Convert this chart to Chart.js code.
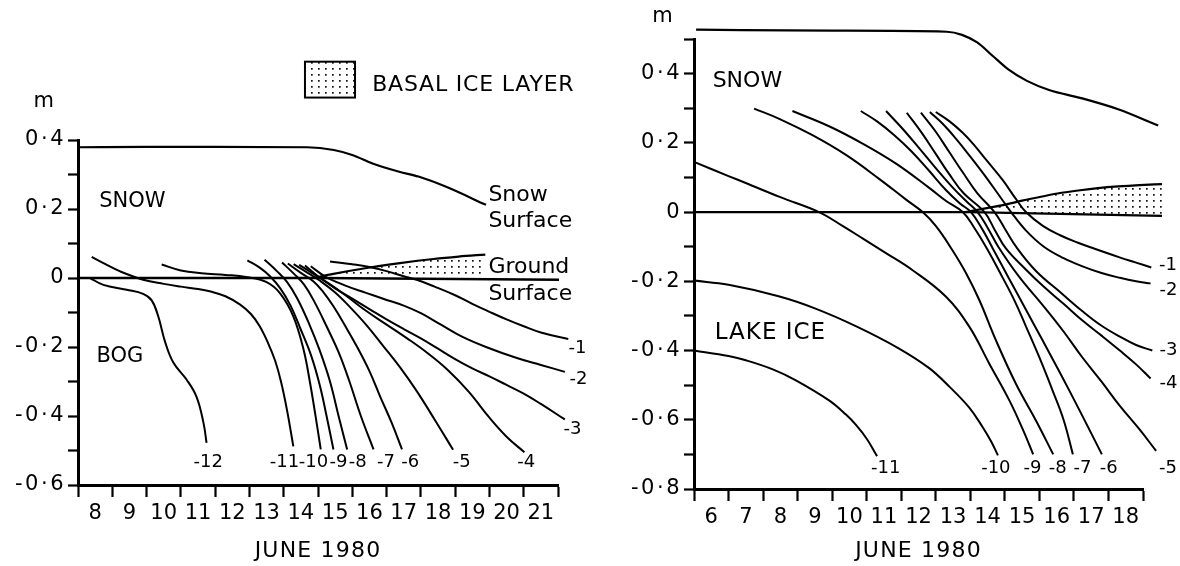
<!DOCTYPE html>
<html><head><meta charset="utf-8">
<script src="https://cdn.jsdelivr.net/npm/chart.js@4.4.1/dist/chart.umd.min.js"></script>
<style>
html,body{margin:0;padding:0;background:#fff;}
#wrap{position:relative;width:1180px;height:566px;overflow:hidden;background:#fff;}
#c1{position:absolute;left:0;top:0;}
#c2{position:absolute;left:590px;top:0;}
</style></head><body>
<div id="wrap"><canvas id="c1" width="590" height="566"></canvas><canvas id="c2" width="590" height="566"></canvas></div>
<script>
// ---------------- DATA (day of June 1980, metres) ----------------
// LEFT PANEL (bog site)
const leftSnow = [[8.05,0.379],[10.0,0.38],[12.0,0.38],[14.68,0.379],[15.46,0.371],[16.02,0.356],[16.59,0.332],[17.37,0.308],[17.93,0.294],[18.72,0.265],[19.9,0.212]];
const leftGround = [[8.0,0.0],[15.0,0.0],[22.03,-0.005]];
const leftBasalTop = [[14.87,0.0],[15.45,0.012],[16.42,0.029],[17.39,0.043],[18.37,0.055],[19.1,0.062],[19.88,0.068]];
const leftBasalBottom = [[14.87,0.0],[15.45,0.0],[16.42,-0.001],[17.39,-0.002],[18.37,-0.002],[19.1,-0.003],[19.88,-0.003]];
const lIso1 = [[15.35,0.048],[16.0,0.04],[16.5,0.032],[17.0,0.02],[17.5,0.005],[17.9,-0.006],[18.4,-0.025],[19.0,-0.05],[19.5,-0.075],[20.0,-0.098],[20.5,-0.12],[21.0,-0.14],[21.5,-0.158],[22.3,-0.177]];
const lIso2 = [[14.79,0.034],[15.2,0.005],[15.8,-0.022],[16.4,-0.043],[16.9,-0.06],[17.5,-0.08],[18.0,-0.102],[18.6,-0.136],[19.2,-0.17],[19.9,-0.2],[20.8,-0.232],[21.5,-0.252],[22.2,-0.272]];
const lIso3 = [[14.62,0.036],[15.0,0.005],[15.5,-0.03],[16.0,-0.06],[16.5,-0.09],[17.0,-0.12],[17.5,-0.148],[18.0,-0.175],[18.5,-0.205],[19.0,-0.235],[19.5,-0.262],[20.0,-0.285],[20.5,-0.31],[21.0,-0.335],[21.5,-0.365],[22.2,-0.41]];
const lIso4 = [[14.45,0.038],[14.9,0.01],[15.3,-0.015],[15.8,-0.05],[16.4,-0.095],[17.0,-0.135],[17.6,-0.175],[18.2,-0.218],[18.8,-0.268],[19.4,-0.33],[20.0,-0.405],[20.5,-0.46],[21.02,-0.505]];
const lIso5 = [[14.29,0.04],[14.7,0.015],[15.06,-0.008],[15.5,-0.042],[15.94,-0.085],[16.4,-0.135],[16.91,-0.198],[17.4,-0.26],[17.88,-0.328],[18.4,-0.41],[18.94,-0.498]];
const lIso6 = [[14.12,0.042],[14.5,0.015],[14.87,-0.01],[15.15,-0.04],[15.45,-0.082],[15.8,-0.14],[16.13,-0.198],[16.5,-0.27],[16.81,-0.343],[17.15,-0.42],[17.45,-0.497]];
const lIso7 = [[13.95,0.045],[14.3,0.012],[14.6,-0.02],[14.9,-0.07],[15.25,-0.14],[15.6,-0.215],[15.9,-0.295],[16.25,-0.4],[16.62,-0.497]];
const lIso8 = [[13.44,0.053],[13.8,0.02],[14.1,-0.012],[14.4,-0.06],[14.75,-0.135],[15.05,-0.21],[15.35,-0.3],[15.6,-0.4],[15.85,-0.497]];
const lIso9 = [[12.94,0.051],[13.3,0.03],[13.6,0.005],[13.9,-0.03],[14.2,-0.08],[14.5,-0.15],[14.8,-0.225],[15.05,-0.31],[15.25,-0.4],[15.45,-0.497]];
const lIso10 = [[10.44,0.039],[11.0,0.022],[11.6,0.014],[12.3,0.009],[12.9,0.003],[13.5,-0.012],[13.9,-0.045],[14.28,-0.111],[14.58,-0.208],[14.77,-0.305],[14.93,-0.401],[15.08,-0.497]];
const lIso11 = [[8.4,0.061],[8.8,0.04],[9.23,0.019],[9.9,-0.005],[10.5,-0.017],[11.0,-0.025],[11.5,-0.032],[11.9,-0.04],[12.3,-0.053],[12.73,-0.077],[13.05,-0.105],[13.3,-0.14],[13.55,-0.19],[13.75,-0.24],[13.92,-0.3],[14.1,-0.385],[14.28,-0.488]];
const lIso12 = [[8.35,0.0],[8.74,-0.02],[9.42,-0.034],[9.9,-0.046],[10.15,-0.065],[10.34,-0.111],[10.54,-0.185],[10.78,-0.245],[11.17,-0.295],[11.46,-0.345],[11.66,-0.42],[11.75,-0.478]];

// RIGHT PANEL (lake site)
const rightSnow = [[6.06,0.527],[10.0,0.524],[13.32,0.521],[13.76,0.512],[14.2,0.49],[14.65,0.451],[15.09,0.413],[15.64,0.379],[16.3,0.352],[17.18,0.33],[18.28,0.297],[19.44,0.25]];
const rightGround = [[6.0,0.0],[14.0,0.0],[19.55,-0.011]];
const rightBasalTop = [[13.87,0.0],[14.4,0.01],[14.98,0.021],[15.5,0.033],[16.08,0.045],[16.6,0.055],[17.18,0.063],[17.7,0.069],[18.28,0.074],[18.9,0.078],[19.55,0.081]];
const rightBasalBottom = [[13.87,0.0],[14.4,0.0],[14.98,-0.002],[15.5,-0.003],[16.08,-0.004],[16.6,-0.005],[17.18,-0.006],[17.7,-0.007],[18.28,-0.008],[18.9,-0.01],[19.55,-0.011]];
const rIso1 = [[13.0,0.289],[13.4,0.262],[13.78,0.229],[14.1,0.195],[14.45,0.152],[14.94,0.092],[15.32,0.038],[15.61,0.0],[16.1,-0.04],[16.6,-0.067],[17.1,-0.088],[17.6,-0.106],[18.3,-0.13],[18.8,-0.146],[19.24,-0.16]];
const rIso2 = [[12.83,0.289],[13.2,0.255],[13.6,0.21],[14.0,0.16],[14.4,0.108],[14.8,0.053],[15.18,0.0],[15.6,-0.052],[16.13,-0.1],[16.7,-0.133],[17.23,-0.156],[17.8,-0.176],[18.33,-0.19],[18.8,-0.2],[19.22,-0.206]];
const rIso3 = [[12.57,0.287],[13.0,0.232],[13.4,0.172],[13.8,0.112],[14.2,0.055],[14.7,0.0],[15.0,-0.048],[15.36,-0.105],[15.9,-0.17],[16.68,-0.238],[17.23,-0.285],[17.78,-0.327],[18.33,-0.36],[18.8,-0.384],[19.27,-0.4]];
const rIso4 = [[12.16,0.287],[12.6,0.228],[13.0,0.168],[13.4,0.108],[13.8,0.055],[14.41,0.0],[14.7,-0.05],[15.03,-0.105],[15.6,-0.165],[16.13,-0.216],[16.7,-0.265],[17.23,-0.312],[17.8,-0.357],[18.33,-0.4],[18.8,-0.44],[19.22,-0.481]];
const rIso5 = [[11.56,0.292],[12.0,0.245],[12.5,0.187],[13.0,0.127],[13.5,0.07],[13.9,0.03],[14.21,0.0],[14.5,-0.045],[14.81,-0.1],[15.4,-0.185],[16.13,-0.273],[16.7,-0.345],[17.23,-0.418],[17.8,-0.49],[18.33,-0.56],[18.9,-0.628],[19.38,-0.69]];
const rIso6 = [[10.83,0.292],[11.3,0.262],[11.8,0.222],[12.3,0.175],[12.8,0.12],[13.3,0.063],[13.7,0.025],[14.02,0.0],[14.35,-0.05],[14.65,-0.105],[15.1,-0.188],[15.6,-0.28],[16.1,-0.372],[16.6,-0.465],[17.2,-0.58],[17.81,-0.7]];
const rIso7 = [[8.85,0.292],[9.91,0.248],[10.88,0.198],[11.85,0.14],[12.81,0.07],[13.3,0.032],[13.78,0.0],[14.1,-0.043],[14.48,-0.105],[14.94,-0.19],[15.3,-0.26],[15.61,-0.33],[16.0,-0.42],[16.4,-0.52],[16.7,-0.6],[16.97,-0.7]];
const rIso8 = [[7.74,0.299],[8.5,0.268],[9.43,0.222],[10.4,0.165],[11.36,0.096],[12.14,0.036],[12.62,0.0],[13.0,-0.04],[13.45,-0.105],[13.87,-0.175],[14.26,-0.254],[14.74,-0.37],[15.32,-0.496],[15.9,-0.602],[16.4,-0.7]];
const rIso9 = [[6.0,0.145],[7.0,0.104],[7.5,0.084],[8.5,0.043],[9.62,0.0],[10.3,-0.04],[10.88,-0.076],[11.5,-0.115],[12.33,-0.168],[13.29,-0.244],[13.97,-0.331],[14.55,-0.438],[15.13,-0.544],[15.52,-0.628],[15.82,-0.7]];
const rIso10 = [[6.0,-0.198],[7.0,-0.21],[8.45,-0.243],[9.5,-0.278],[10.7,-0.33],[11.9,-0.392],[12.8,-0.45],[13.4,-0.505],[13.97,-0.565],[14.35,-0.62],[14.6,-0.662],[14.8,-0.703]];
const rIso11 = [[6.0,-0.4],[7.0,-0.416],[7.5,-0.428],[8.3,-0.455],[8.95,-0.486],[9.91,-0.544],[10.4,-0.585],[10.69,-0.615],[11.0,-0.655],[11.3,-0.705]];

// isotherm names (°C)
const leftIsoNames = ['-1','-2','-3','-4','-5','-6','-7','-8','-9','-10','-11','-12'];
const rightIsoNames = ['-1','-2','-3','-4','-5','-6','-7','-8','-9','-10','-11'];
// axis day ranges and value ranges
const leftDays = [8, 22];
const rightDays = [6, 19];
const leftRange = [-0.6, 0.4];
const rightRange = [-0.8, 0.5];

// ---------------- annotations (data units) ----------------
const leftIsoLabelAt = [[22.57,-0.203],[22.6,-0.295],[22.42,-0.439],[21.07,-0.534],[19.19,-0.534],[17.69,-0.534],[16.98,-0.534],[16.16,-0.534],[15.6,-0.534],[14.87,-0.534],[14.02,-0.534],[11.8,-0.534]];
const rightIsoLabelAt = [[19.72,-0.153],[19.74,-0.225],[19.74,-0.399],[19.74,-0.494],[19.72,-0.74],[18.01,-0.74],[17.25,-0.74],[16.53,-0.74],[15.8,-0.74],[14.74,-0.74],[11.55,-0.74]];

const FONT = "'DejaVu Sans', 'Liberation Sans', sans-serif";

function pts(a){ return a.map(p => ({x:p[0], y:p[1]})); }

function makePattern(){
  const p = document.createElement('canvas'); p.width = 7; p.height = 6;
  const g = p.getContext('2d'); g.fillStyle = '#111'; g.fillRect(3,2,1.7,1.7);
  return document.createElement('canvas').getContext('2d').createPattern(p, 'repeat');
}
const PATTERN = makePattern();

function yLabel(v){
  const k = Math.round(v*10);
  if (k % 2 !== 0) return '';
  if (k === 0) return '0';
  return (k < 0 ? '-' : '') + (Math.abs(k)/10).toFixed(1).replace('.', '\u00B7');
}

function spaced(fn, ctx, px){
  return function(){
    ctx.save();
    try { ctx.letterSpacing = px; } catch(e) {}
    const r = fn.apply(this, arguments);
    ctx.restore();
    return r;
  };
}

const textPlugin = {
  id: 'texts',
  afterInit(chart){
    const ys = chart.scales.y, xs = chart.scales.x;
    // y tick labels and x title are drawn by Chart.js with a slightly wider letter spacing
    chart.$wrap = true;
  },
  beforeDraw(chart){
    const a = chart.chartArea;
    chart.$saved = {left:a.left, right:a.right, top:a.top, bottom:a.bottom};
    a.right += 45; a.top -= 40; a.left -= 2;
    const ys = chart.scales.y, xs = chart.scales.x;
    if (!ys.$spaced){ ys.drawLabels = spaced(Object.getPrototypeOf(ys).drawLabels, chart.ctx, '2.5px'); ys.$spaced = true; }
    if (!xs.$spaced){ xs.drawTitle = spaced(Object.getPrototypeOf(xs).drawTitle, chart.ctx, '1.2px'); xs.$spaced = true; }
  },
  afterDatasetsDraw(chart){
    const s = chart.$saved, a = chart.chartArea;
    if (s){ a.left = s.left; a.right = s.right; a.top = s.top; a.bottom = s.bottom; }
  },
  afterDraw(chart){
    const spec = chart.options.plugins.texts;
    const ctx = chart.ctx, xs = chart.scales.x, ys = chart.scales.y;
    ctx.save();
    ctx.fillStyle = '#000';
    ctx.textBaseline = 'middle';
    spec.items.forEach(it => {
      try { ctx.letterSpacing = (it.ls || 0) + 'px'; } catch(e) {}
      ctx.font = it.size + 'px ' + FONT;
      ctx.textAlign = it.align || 'left';
      ctx.fillText(it.text, xs.getPixelForValue(it.x), ys.getPixelForValue(it.y));
    });
    try { ctx.letterSpacing = '0px'; } catch(e) {}
    spec.names.forEach((n, i) => {
      ctx.font = spec.labelSize + 'px ' + FONT;
      ctx.textAlign = 'center';
      const p = spec.labelAt[i];
      ctx.fillText(n, xs.getPixelForValue(p[0]), ys.getPixelForValue(p[1]));
    });
    if (spec.legend){
      const L = spec.legend;
      const x1 = xs.getPixelForValue(L.box[0]), x2 = xs.getPixelForValue(L.box[1]);
      const y1 = ys.getPixelForValue(L.box[2]), y2 = ys.getPixelForValue(L.box[3]);
      ctx.fillStyle = PATTERN; ctx.fillRect(x1, y1, x2-x1, y2-y1);
      ctx.strokeStyle = '#000'; ctx.lineWidth = 2; ctx.strokeRect(x1, y1, x2-x1, y2-y1);
      ctx.fillStyle = '#000';
      try { ctx.letterSpacing = '0.8px'; } catch(e) {}
      ctx.font = L.size + 'px ' + FONT; ctx.textAlign = 'left';
      ctx.fillText(L.text, xs.getPixelForValue(L.x), ys.getPixelForValue(L.y));
    }
    ctx.restore();
  }
};

function build(id, o){
  const datasets = [];
  o.iso.forEach(arr => datasets.push({data: pts(arr), borderColor:'#000', borderWidth:2, pointRadius:0, fill:false, tension:0.4, clip:false}));
  datasets.push({data: pts(o.snow), borderColor:'#000', borderWidth:2.2, pointRadius:0, fill:false, cubicInterpolationMode:'monotone', clip:false});
  datasets.push({data: pts(o.ground), borderColor:'#000', borderWidth:2.4, pointRadius:0, fill:false, tension:0, clip:false});
  datasets.push({data: pts(o.basalTop), borderColor:'#000', borderWidth:2.2, pointRadius:0, fill:'+1', backgroundColor:PATTERN, cubicInterpolationMode:'monotone', clip:false});
  datasets.push({data: pts(o.basalBottom), borderColor:'rgba(0,0,0,0)', borderWidth:0, pointRadius:0, fill:false, tension:0, clip:false});
  return new Chart(document.getElementById(id), {
    type: 'line',
    data: {datasets},
    options: {
      responsive:false, animation:false, devicePixelRatio:1,
      layout: {padding: o.padding},
      elements: {line: {capBezierPoints:false}},
      plugins: {legend:{display:false}, tooltip:{enabled:false}, texts: o.texts},
      scales: {
        x: {
          type:'linear',
          afterDataLimits: s => { s.min = o.days[0]; s.max = o.days[1]; },
          afterFit: s => { s.height = o.xHeight; },
          ticks: {stepSize:0.5, autoSkip:false, maxRotation:0, minRotation:0, padding:4, color:'#000',
                  font:{family:FONT, size:21},
                  callback: v => (Math.round(v*2) % 2 === 1) ? String(Math.floor(v)) : ''},
          grid: {drawOnChartArea:false, drawTicks:true, tickLength:12, tickWidth:2.2,
                 color: c => (c.tick && Math.round(c.tick.value*2) % 2 === 0) ? '#000' : 'rgba(0,0,0,0)'},
          border: {display:true, color:'#000', width:3},
          title: {display:true, text:'JUNE 1980', color:'#000', font:{family:FONT, size:22}, padding:{top:0, bottom:1}}
        },
        y: {
          type:'linear', min:o.range[0], max:o.range[1],
          afterFit: s => { s.width = o.yWidth; },
          ticks: {stepSize:0.1, autoSkip:false, padding:2, color:'#000', font:{family:FONT, size:21}, callback: yLabel},
          grid: {drawOnChartArea:false, drawTicks:true, tickLength:10, tickWidth:2.2, color:'#000'},
          border: {display:true, color:'#000', width:3}
        }
      }
    },
    plugins: [textPlugin]
  });
}

build('c1', {
  days: leftDays, range: leftRange, yWidth: 78, xHeight: 80,
  padding: {left:0, top:140, right:32, bottom:1},
  iso: [lIso1,lIso2,lIso3,lIso4,lIso5,lIso6,lIso7,lIso8,lIso9,lIso10,lIso11,lIso12],
  snow: leftSnow, ground: leftGround, basalTop: leftBasalTop, basalBottom: leftBasalBottom,
  texts: {
    names: leftIsoNames, labelAt: leftIsoLabelAt, labelSize: 18,
    items: [
      {text:'SNOW', x:8.62, y:0.222, size:21},
      {text:'BOG', x:8.54, y:-0.229, size:21},
      {text:'Snow', x:19.97, y:0.241, size:22},
      {text:'Surface', x:19.97, y:0.163, size:22},
      {text:'Ground', x:19.97, y:0.03, size:22},
      {text:'Surface', x:19.97, y:-0.046, size:22},
      {text:'m', x:7.0, y:0.511, size:21, align:'center'}
    ],
    legend: {box:[14.62,16.08,0.627,0.523], text:'BASAL ICE LAYER', x:16.58, y:0.56, size:22}
  }
});

build('c2', {
  days: rightDays, range: rightRange, yWidth: 104, xHeight: 76,
  padding: {left:0, top:39, right:37, bottom:1},
  iso: [rIso1,rIso2,rIso3,rIso4,rIso5,rIso6,rIso7,rIso8,rIso9,rIso10,rIso11],
  snow: rightSnow, ground: rightGround, basalTop: rightBasalTop, basalBottom: rightBasalBottom,
  texts: {
    names: rightIsoNames, labelAt: rightIsoLabelAt, labelSize: 18,
    items: [
      {text:'SNOW', x:6.54, y:0.379, size:22},
      {text:'LAKE ICE', x:6.6, y:-0.35, size:23, ls:1},
      {text:'m', x:5.09, y:0.564, size:21, align:'center'}
    ],
    legend: null
  }
});
</script>
</body></html>
